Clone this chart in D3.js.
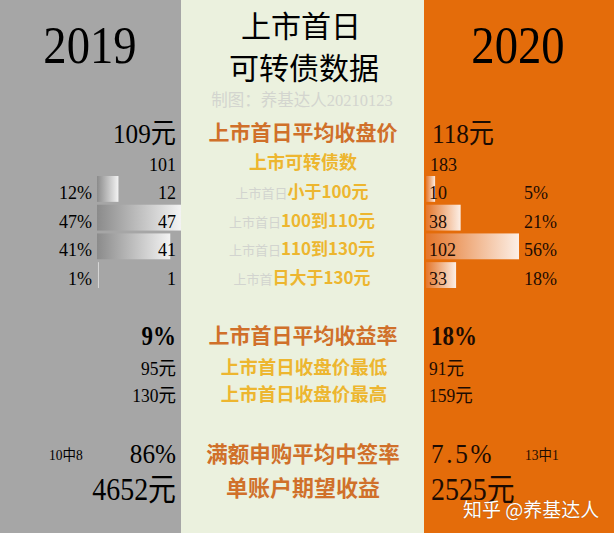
<!DOCTYPE html>
<html><head><meta charset="utf-8">
<script src="https://cdn.jsdelivr.net/npm/d3@7"></script>
<style>html,body{margin:0;padding:0;background:#fff}svg{display:block}</style>
</head><body>
<script>
// ---------- data ----------
const years = ["2019", "2020"];
const titleLines = ["上市首日", "可转债数据"];
const credit = "制图：养基达人20210123";
const avgClose = [109, 118];            // 上市首日平均收盘价 (元)
const bondCount = [101, 183];           // 上市可转债数
const rangePrefix = ["上市首日", "上市首日", "上市首日", "上市首"];
const rangeLabels = ["小于100元", "100到110元", "110到130元", "日大于130元"];
const count2019 = [12, 47, 41, 1];
const pct2019 = [12, 47, 41, 1];
const count2020 = [10, 38, 102, 33];
const pct2020 = [5, 21, 56, 18];
const avgReturn = [9, 18];              // 上市首日平均收益率 (%)
const minClose = [95, 91];
const maxClose = [130, 159];
const winRate = ["86%", "7.5%"];
const winNote = ["10中8", "13中1"];
const expected = [4652, 2525];
const rowLabels = ["上市首日平均收盘价", "上市可转债数", "上市首日平均收益率", "上市首日收盘价最低", "上市首日收盘价最高", "满额申购平均中签率", "单账户期望收益"];
const watermark = "知乎 @养基达人";

// ---------- layout ----------
const W = 614, H = 533;
const NUM = "'Liberation Serif','Noto Sans CJK SC',serif";
const CJK = "'Noto Sans CJK SC',sans-serif";
const C = {gray: "#a6a6a6", mid: "#ebf1de", orange: "#e46c0a", ink: "#000", inkR: "#1c0b02",
           lab: "#d0702a", gold: "#edb62f", pre: "#d2d4cf", credit: "#d3d5cf"};
const LX = 176, RX = 430, MX = 303;

const svg = d3.select("body").append("svg").attr("width", W).attr("height", H);
const defs = svg.append("defs");
const gL = defs.append("linearGradient").attr("id", "gL");
gL.append("stop").attr("offset", "0%").attr("stop-color", "#8b8b8b");
gL.append("stop").attr("offset", "100%").attr("stop-color", "#f3f3f3");
const gR = defs.append("linearGradient").attr("id", "gR");
gR.append("stop").attr("offset", "0%").attr("stop-color", "#e4762a");
gR.append("stop").attr("offset", "100%").attr("stop-color", "#fcefe6");

svg.append("rect").attr("x", 0).attr("y", 0).attr("width", 181).attr("height", H).attr("fill", C.gray);
svg.append("rect").attr("x", 181).attr("y", 0).attr("width", 243).attr("height", H).attr("fill", C.mid);
svg.append("rect").attr("x", 424).attr("y", 0).attr("width", W - 424).attr("height", H).attr("fill", C.orange);

function put(x, y, str, o) {
  o = o || {};
  const t = svg.append("text")
    .attr("transform", `translate(${x},${y}) scale(${o.sx || 1},1)`)
    .attr("text-anchor", o.anchor || "start")
    .attr("font-family", o.family || NUM)
    .attr("font-size", o.size || 18)
    .attr("font-weight", o.weight || "normal")
    .attr("fill", o.color || C.ink)
    .text(str);
  return t;
}

// header
put(90, 63, years[0], {size: 53, anchor: "middle", sx: 0.88});
put(518, 63, years[1], {size: 53, anchor: "middle", sx: 0.88});
put(301, 37, titleLines[0], {size: 30, anchor: "middle", family: CJK});
put(304, 79, titleLines[1], {size: 30, anchor: "middle", family: CJK});
put(302, 106, credit, {size: 16.5, anchor: "middle", color: C.credit});

// row: average close
put(LX, 143, avgClose[0] + "元", {size: 28, anchor: "end", sx: 0.9});
put(RX + 2, 143, avgClose[1] + "元", {size: 28, sx: 0.9, color: C.inkR});
put(MX, 140, rowLabels[0], {size: 21, anchor: "middle", family: CJK, weight: "bold", color: C.lab});

// row: count
put(LX, 171, bondCount[0], {size: 18, anchor: "end"});
put(RX, 171, bondCount[1], {size: 18, color: C.inkR});
put(MX, 169, rowLabels[1], {size: 18, anchor: "middle", family: CJK, weight: "bold", color: C.gold});

// distribution rows with bars
const yBand = d3.scaleBand().domain(rangeLabels).range([176, 288]).paddingInner(0.1);
const xL = d3.scaleLinear().domain([0, d3.max(count2019)]).range([0, 84]);
const xR = d3.scaleLinear().domain([0, d3.max(count2020)]).range([0, 93]);

svg.append("g").selectAll("rect").data(rangeLabels).join("rect")
  .attr("x", 97).attr("y", d => yBand(d))
  .attr("width", (d, i) => xL(count2019[i])).attr("height", yBand.bandwidth())
  .attr("fill", "url(#gL)");
svg.append("g").selectAll("rect").data(rangeLabels).join("rect")
  .attr("x", 426).attr("y", d => yBand(d))
  .attr("width", (d, i) => xR(count2020[i])).attr("height", yBand.bandwidth())
  .attr("fill", "url(#gR)");

rangeLabels.forEach((lab, i) => {
  const yb = yBand(lab) + 23;
  put(92, yb, pct2019[i] + "%", {size: 18, anchor: "end"});
  put(LX, yb, count2019[i], {size: 18, anchor: "end"});
  put(RX - 1, yb, count2020[i], {size: 18, color: C.inkR});
  put(524, yb, pct2020[i] + "%", {size: 18, color: C.inkR});
  const t = svg.append("text").attr("x", 302).attr("y", yb - 1).attr("text-anchor", "middle")
    .attr("font-family", CJK);
  t.append("tspan").attr("font-size", 13).attr("fill", C.pre).text(rangePrefix[i]);
  t.append("tspan").attr("font-size", 17).attr("font-weight", "bold").attr("fill", C.gold).text(lab);
});

// return rows
put(LX, 345, avgReturn[0] + "%", {size: 27, anchor: "end", weight: "bold", sx: 0.85});
put(RX + 1, 345, avgReturn[1] + "%", {size: 27, weight: "bold", sx: 0.85, color: C.inkR});
put(MX, 343, rowLabels[2], {size: 21, anchor: "middle", family: CJK, weight: "bold", color: C.lab});

put(LX, 375, minClose[0] + "元", {size: 19, anchor: "end", sx: 0.92});
put(RX - 1, 375, minClose[1] + "元", {size: 19, sx: 0.92, color: C.inkR});
put(304, 374, rowLabels[3], {size: 18.5, anchor: "middle", family: CJK, weight: "bold", color: C.gold});

put(LX, 402, maxClose[0] + "元", {size: 19, anchor: "end", sx: 0.92});
put(RX - 1, 402, maxClose[1] + "元", {size: 19, sx: 0.92, color: C.inkR});
put(304, 401, rowLabels[4], {size: 18.5, anchor: "middle", family: CJK, weight: "bold", color: C.gold});

// lottery rows
put(49, 460, winNote[0], {size: 15, sx: 0.9});
put(525, 460, winNote[1], {size: 15, sx: 0.9, color: C.inkR});
put(LX, 463, winRate[0], {size: 28, anchor: "end", sx: 0.9});
put(RX + 1, 463, winRate[1], {size: 28, sx: 0.9, color: C.inkR}).attr("letter-spacing", 3);
put(MX, 462, rowLabels[5], {size: 21.5, anchor: "middle", family: CJK, weight: "bold", color: C.lab});

put(LX, 500, expected[0] + "元", {size: 31, anchor: "end", sx: 0.9});
put(RX + 1, 500, expected[1] + "元", {size: 31, sx: 0.9, color: C.inkR});
put(MX, 496, rowLabels[6], {size: 22, anchor: "middle", family: CJK, weight: "bold", color: C.lab});

// watermark
put(463, 517, watermark, {size: 19, family: CJK, color: "#fff"})
  .attr("style", "text-shadow:0 0 1px rgba(0,0,0,0.35)");
</script>
</body></html>
